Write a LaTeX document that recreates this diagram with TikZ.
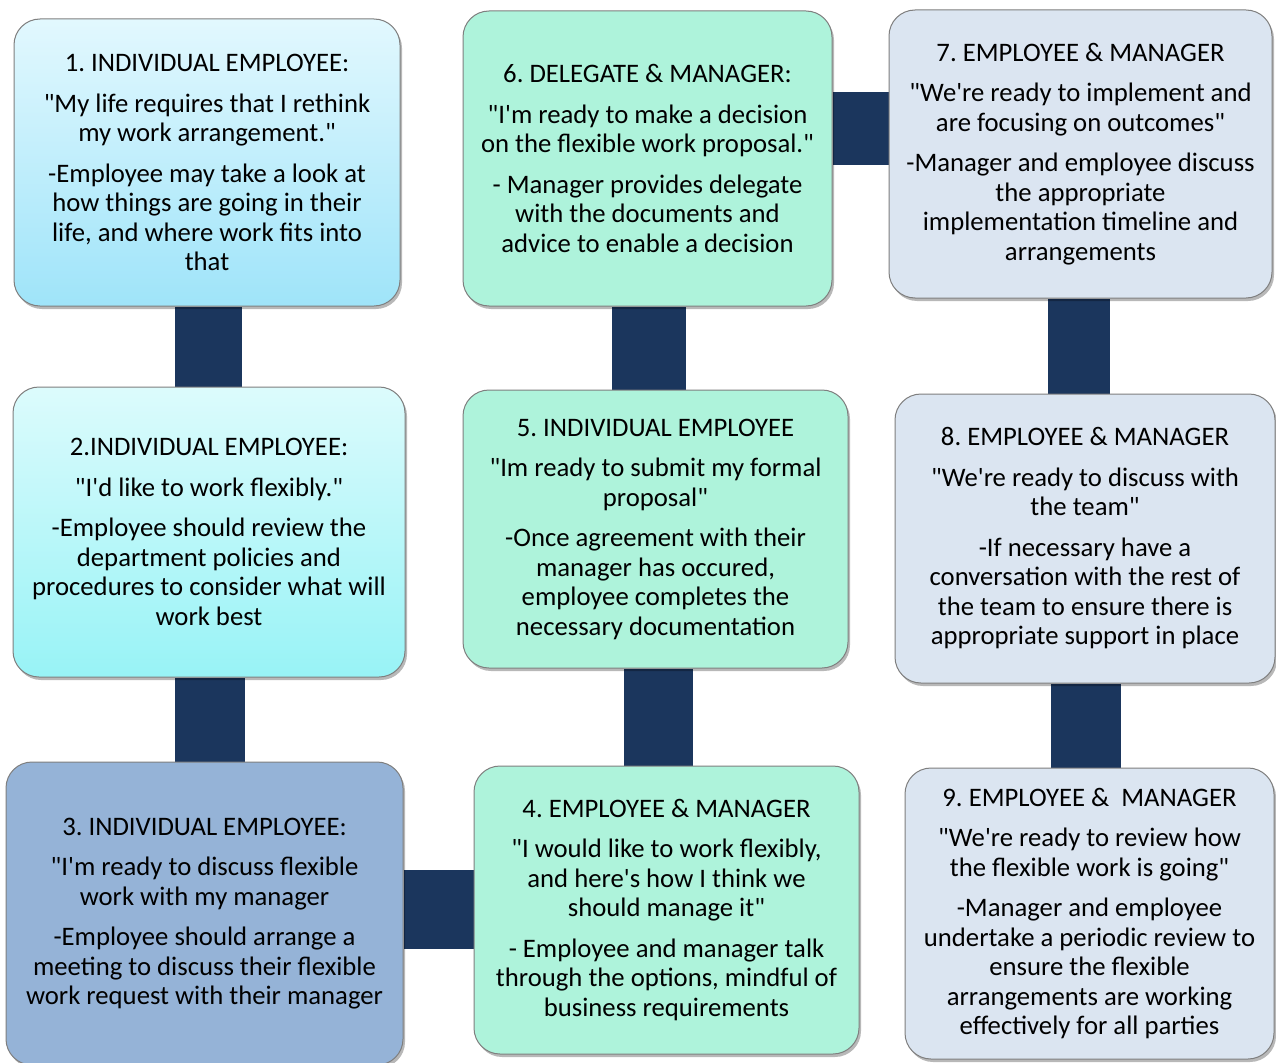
\documentclass[tikz,border=0pt]{standalone}
\usepackage{fontspec}
\setmainfont{Carlito}[Ligatures=TeXOff]
\usetikzlibrary{shadows}
\pgfdeclarelayer{background}
\pgfsetlayers{background,main}

\definecolor{linkblue}{HTML}{1B365D}
\definecolor{cardline}{HTML}{7F7F7F}
\definecolor{skyTop}{HTML}{E2F8FE}
\definecolor{skyBot}{HTML}{9FE4F9}
\definecolor{aquaTop}{HTML}{DCFBFC}
\definecolor{aquaBot}{HTML}{98F3F6}
\definecolor{steel}{HTML}{95B3D7}
\definecolor{mint}{HTML}{AEF3DB}
\definecolor{mist}{HTML}{DBE5F1}

\tikzset{
  card/.style n args={2}{draw=cardline, line width=1pt, rounded corners=26pt,
    minimum width=#1, minimum height=#2, align=center, inner sep=0pt,
    font=\fontsize{26.7}{29.5}\selectfont,
    drop shadow={shadow xshift=2pt, shadow yshift=-3pt, opacity=0.28, fill=black}},
  link/.style={draw=linkblue, line width=#1, line cap=butt,
    preaction={draw=black, opacity=0.22,
      transform canvas={xshift=2pt, yshift=-3pt}}}
}

\begin{document}
\frenchspacing
\begin{tikzpicture}[x=1pt, y=-1pt]
  \useasboundingbox (0,0) rectangle (1276,1062);
  \clip (0,0) rectangle (1276,1062);

  % step cards
  \node[card={386pt}{287pt}, top color=skyTop, bottom color=skyBot] (b1) at (207,162.5)
    {1. INDIVIDUAL EMPLOYEE:\\[11pt]
     "My life requires that I rethink\\ my work arrangement."\\[11pt]
     -Employee may take a look at\\ how things are going in their\\
     life, and where work fits into\\ that};

  \node[card={392pt}{290pt}, top color=aquaTop, bottom color=aquaBot] (b2) at (209,532)
    {2.INDIVIDUAL EMPLOYEE:\\[11pt]
     "I'd like to work flexibly."\\[11pt]
     -Employee should review the\\ department policies and\\
     procedures to consider what will\\ work best};

  \node[card={397pt}{303pt}, fill=steel] (b3) at (204.5,913.5)
    {3. INDIVIDUAL EMPLOYEE:\\[11pt]
     "I'm ready to discuss flexible\\ work with my manager\\[11pt]
     -Employee should arrange a\\ meeting to discuss their flexible\\
     work request with their manager};

  \node[card={385pt}{288pt}, fill=mint] (b4) at (666.5,910)
    {4. EMPLOYEE \& MANAGER\\[11pt]
     "I would like to work flexibly,\\ and here's how I think we\\
     should manage it"\\[11pt]
     - Employee and manager talk\\ through the options, mindful of\\
     business requirements};

  \node[card={385pt}{278pt}, fill=mint] (b5) at (655.5,529)
    {5. INDIVIDUAL EMPLOYEE\\[11pt]
     "Im ready to submit my formal\\ proposal"\\[11pt]
     -Once agreement with their\\ manager has occured,\\
     employee completes the\\ necessary documentation};

  \node[card={369pt}{295pt}, fill=mint] (b6) at (647.5,158.5)
    {6. DELEGATE \& MANAGER:\\[11pt]
     "I'm ready to make a decision\\ on the flexible work proposal."\\[11pt]
     - Manager provides delegate\\ with the documents and\\
     advice to enable a decision};

  \node[card={383pt}{288pt}, fill=mist] (b7) at (1080.5,154)
    {7. EMPLOYEE \& MANAGER\\[11pt]
     "We're ready to implement and\\ are focusing on outcomes"\\[11pt]
     -Manager and employee discuss\\ the appropriate\\
     implementation timeline and\\ arrangements};

  \node[card={380pt}{289pt}, fill=mist] (b8) at (1085,538.5)
    {8. EMPLOYEE \& MANAGER\\[11pt]
     "We're ready to discuss with\\ the team"\\[11pt]
     -If necessary have a\\ conversation with the rest of\\
     the team to ensure there is\\ appropriate support in place};

  \node[card={369pt}{291pt}, fill=mist] (b9) at (1089.5,913.5)
    {9. EMPLOYEE \& \ MANAGER\\[11pt]
     "We're ready to review how\\ the flexible work is going"\\[11pt]
     -Manager and employee\\ undertake a periodic review to\\
     ensure the flexible\\ arrangements are working\\
     effectively for all parties};

  % connecting bars between consecutive steps, behind the cards
  \begin{pgfonlayer}{background}
    \fill[white] (0,0) rectangle (1276,1062);
    \draw[link=67pt] (208.5,0 |- b1.south) -- (208.5,0 |- b2.north);
    \draw[link=70pt] (210,0 |- b2.south) -- (210,0 |- b3.north);
    \draw[link=79pt] (b3.east |- 0,909.5) -- (b4.west |- 0,909.5);
    \draw[link=69pt] (658.5,0 |- b4.north) -- (658.5,0 |- b5.south);
    \draw[link=74pt] (649,0 |- b5.north) -- (649,0 |- b6.south);
    \draw[link=73pt] (b6.east |- 0,128.5) -- (b7.west |- 0,128.5);
    \draw[link=62pt] (1079,0 |- b7.south) -- (1079,0 |- b8.north);
    \draw[link=70pt] (1086,0 |- b8.south) -- (1086,0 |- b9.north);
  \end{pgfonlayer}
\end{tikzpicture}
\end{document}
